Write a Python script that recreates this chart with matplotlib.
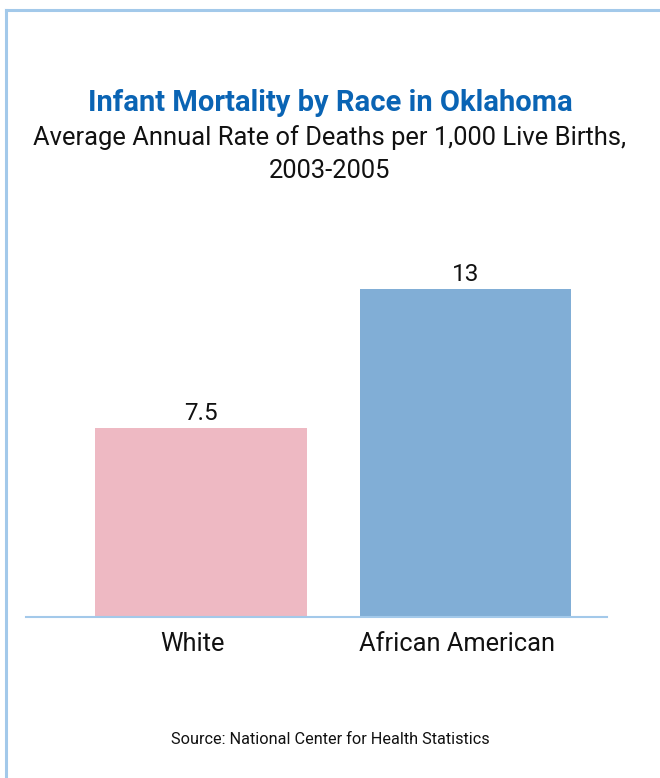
import matplotlib.pyplot as plt
from matplotlib.lines import Line2D
from matplotlib.transforms import ScaledTranslation

# data
races = ['White', 'African American']
rates = [7.5, 13]
bar_colors = ['#EEB9C3', '#81AED6']

title = 'Infant Mortality by Race in Oklahoma'
subtitle = 'Average Annual Rate of Deaths per 1,000 Live Births,\n2003-2005'
source = 'Source: National Center for Health Statistics'

plt.rcParams['font.family'] = ['Roboto', 'DejaVu Sans']

fig = plt.figure(figsize=(6.6, 7.78), dpi=100)
W, H = 660, 778

# light blue frame (top and left)
frame_col = '#A3C9EA'
fig.add_artist(Line2D([5.5 / W, 1], [1 - 9.5 / H, 1 - 9.5 / H], color=frame_col, lw=2.2))
fig.add_artist(Line2D([5.5 / W, 5.5 / W], [0, 1 - 9.5 / H], color=frame_col, lw=2.2))

# axes: baseline at y=617 px, from x=26 to 607
ax = fig.add_axes([26 / W, 1 - 617 / H, (607 - 26) / W, (617 - 250) / H])
x = [0, 1]
bars = ax.bar(x, rates, width=0.8, color=bar_colors)
ax.set_xlim(-0.662, 1.535)
ax.set_ylim(0, 367 / 25.2)

for b, v in zip(bars, rates):
    ax.text(b.get_x() + b.get_width() / 2, v + 0.12, f'{v:g}', ha='center', va='bottom',
            fontsize=17.5, color='#111111')

for s in ['top', 'right', 'left']:
    ax.spines[s].set_visible(False)
ax.spines['bottom'].set_color('#A3C9EA')
ax.spines['bottom'].set_linewidth(1.5)
ax.set_yticks([])
ax.set_xticks(x)
ax.set_xticklabels(races, fontsize=18.3, color='#111111')
ax.tick_params(axis='x', length=0, pad=11)
shift = ScaledTranslation(-9 / 100, 0, fig.dpi_scale_trans)
for lab in ax.get_xticklabels():
    lab.set_transform(lab.get_transform() + shift)

fig.text(0.5, 1 - 103 / H, title, ha='center', va='center', fontsize=21,
         fontweight='bold', color='#0A64B4')
fig.text(0.5, 1 - 154 / H, subtitle, ha='center', va='center', fontsize=18.4,
         color='#111111', linespacing=1.45)
fig.text(0.5, 1 - 739 / H, source, ha='center', va='center', fontsize=11.7,
         color='#111111')

fig.savefig('out.png', dpi=100)
